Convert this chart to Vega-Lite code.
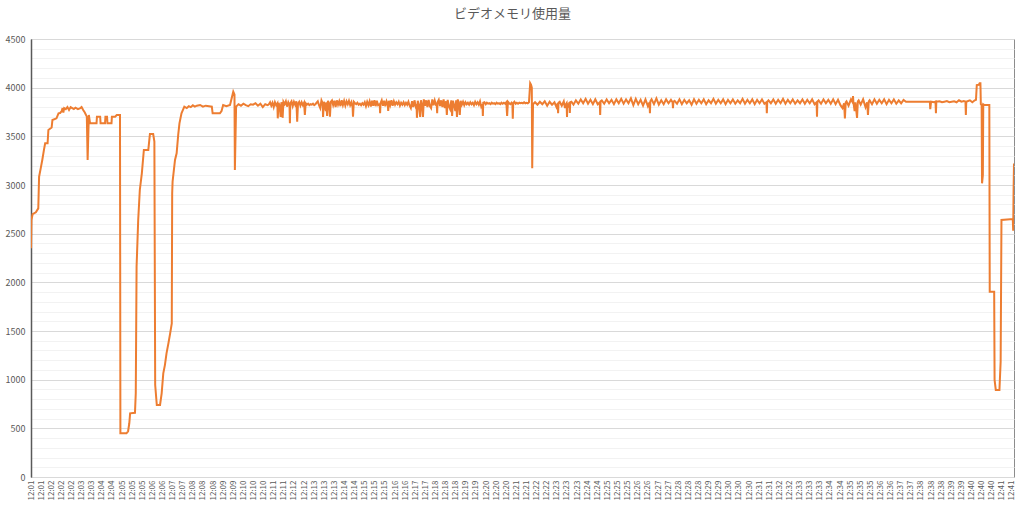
{
  "$schema": "https://vega.github.io/schema/vega-lite/v6.json",
  "width": 983,
  "height": 438,
  "autosize": {"type": "none"},
  "padding": {"left": 31, "top": 39, "right": 10, "bottom": 31},
  "background": "white",
  "title": {"text": "ビデオメモリ使用量", "fontSize": 13, "font": "Noto Sans CJK JP", "fontWeight": "normal", "color": "#595959", "offset": 14, "dx": -10},
  "config": {"view": {"stroke": "#8c8c8c", "strokeWidth": 1}},
  "data": {"values": [
    {"i":0,"v":2350},{"i":1,"v":2640},{"i":4,"v":2700},{"i":12,"v":2720},{"i":18,"v":2760},{"i":20,"v":3085},{"i":24,"v":3171},{"i":28,"v":3260},{"i":32,"v":3360},{"i":35,"v":3428},{"i":41,"v":3428},{"i":43,"v":3565},{"i":51,"v":3590},{"i":53,"v":3668},{"i":63,"v":3685},{"i":68,"v":3737},{"i":72,"v":3740},{"i":76,"v":3760},{"i":78,"v":3790},{"i":80,"v":3745},{"i":82,"v":3790},{"i":86,"v":3780},{"i":90,"v":3800},{"i":94,"v":3770},{"i":98,"v":3800},{"i":102,"v":3790},{"i":106,"v":3780},{"i":110,"v":3795},{"i":116,"v":3780},{"i":122,"v":3790},{"i":125,"v":3800},{"i":129,"v":3770},{"i":133,"v":3745},{"i":138,"v":3702},{"i":140,"v":3257},{"i":143,"v":3720},{"i":146,"v":3634},{"i":162,"v":3634},{"i":163,"v":3702},{"i":171,"v":3702},{"i":172,"v":3634},{"i":183,"v":3634},{"i":184,"v":3702},{"i":188,"v":3702},{"i":189,"v":3634},{"i":199,"v":3634},{"i":200,"v":3702},{"i":208,"v":3702},{"i":212,"v":3719},{"i":220,"v":3719},{"i":221,"v":449},{"i":236,"v":449},{"i":240,"v":470},{"i":243,"v":552},{"i":245,"v":654},{"i":257,"v":660},{"i":259,"v":860},{"i":261,"v":2161},{"i":263,"v":2400},{"i":265,"v":2640},{"i":269,"v":2949},{"i":274,"v":3120},{"i":279,"v":3360},{"i":290,"v":3360},{"i":294,"v":3524},{"i":302,"v":3524},{"i":305,"v":3445},{"i":307,"v":945},{"i":311,"v":740},{"i":319,"v":740},{"i":323,"v":860},{"i":327,"v":1065},{"i":331,"v":1150},{"i":335,"v":1271},{"i":340,"v":1380},{"i":344,"v":1476},{"i":348,"v":1579},{"i":349,"v":2915},{"i":350,"v":3034},{"i":356,"v":3257},{"i":360,"v":3326},{"i":364,"v":3520},{"i":367,"v":3634},{"i":372,"v":3737},{"i":379,"v":3805},{"i":385,"v":3790},{"i":390,"v":3810},{"i":395,"v":3800},{"i":400,"v":3820},{"i":405,"v":3805},{"i":410,"v":3815},{"i":418,"v":3822},{"i":425,"v":3805},{"i":432,"v":3815},{"i":440,"v":3810},{"i":447,"v":3805},{"i":449,"v":3737},{"i":467,"v":3737},{"i":471,"v":3760},{"i":475,"v":3822},{"i":483,"v":3810},{"i":492,"v":3822},{"i":500,"v":3959},{"i":503,"v":3930},{"i":504,"v":3154},
    {"i":507,"v":3805},{"i":513,"v":3830},{"i":519,"v":3815},{"i":525,"v":3835},{"i":531,"v":3820},{"i":537,"v":3810},{"i":543,"v":3830},{"i":549,"v":3825},{"i":555,"v":3840},{"i":561,"v":3815},{"i":567,"v":3835},{"i":573,"v":3800},{"i":579,"v":3830},{"i":585,"v":3820},
    {"i":588,"v":3830},{"i":591,"v":3850},{"i":594,"v":3815},{"i":597,"v":3845},{"i":600,"v":3800},{"i":603,"v":3850},{"i":606,"v":3820},{"i":609,"v":3840},{"i":610,"v":3685},{"i":612,"v":3845},{"i":615,"v":3810},{"i":617,"v":3700},{"i":619,"v":3850},{"i":621,"v":3820},{"i":622,"v":3690},{"i":624,"v":3855},{"i":627,"v":3830},{"i":630,"v":3860},{"i":633,"v":3805},{"i":636,"v":3850},{"i":639,"v":3820},{"i":640,"v":3634},{"i":641,"v":3840},{"i":644,"v":3860},{"i":647,"v":3810},{"i":650,"v":3855},{"i":653,"v":3825},{"i":656,"v":3860},{"i":658,"v":3650},{"i":660,"v":3835},{"i":663,"v":3855},{"i":666,"v":3815},{"i":669,"v":3850},{"i":672,"v":3820},{"i":675,"v":3845},{"i":677,"v":3720},{"i":679,"v":3840},{"i":682,"v":3825},{"i":685,"v":3835},{"i":688,"v":3820},{"i":691,"v":3830},{"i":694,"v":3825},{"i":697,"v":3835},{"i":700,"v":3820},{"i":703,"v":3830},{"i":706,"v":3845},{"i":709,"v":3860},{"i":712,"v":3820},{"i":715,"v":3790},{"i":718,"v":3870},{"i":721,"v":3840},{"i":722,"v":3700},{"i":724,"v":3855},{"i":727,"v":3800},{"i":729,"v":3760},{"i":730,"v":3850},{"i":732,"v":3710},{"i":734,"v":3865},{"i":737,"v":3830},{"i":739,"v":3702},{"i":741,"v":3855},{"i":744,"v":3870},{"i":747,"v":3820},{"i":750,"v":3865},{"i":753,"v":3800},{"i":756,"v":3870},{"i":759,"v":3825},{"i":762,"v":3860},{"i":765,"v":3810},{"i":768,"v":3870},{"i":771,"v":3820},{"i":774,"v":3865},{"i":777,"v":3815},{"i":780,"v":3860},{"i":783,"v":3830},{"i":786,"v":3865},{"i":789,"v":3820},{"i":792,"v":3850},{"i":795,"v":3800},{"i":796,"v":3702},{"i":798,"v":3855},{"i":801,"v":3840},{"i":804,"v":3830},{"i":807,"v":3845},{"i":810,"v":3825},{"i":813,"v":3835},{"i":816,"v":3820},{"i":819,"v":3840},{"i":822,"v":3825},{"i":825,"v":3850},{"i":828,"v":3810},{"i":831,"v":3855},{"i":834,"v":3820},{"i":837,"v":3860},{"i":840,"v":3805},{"i":843,"v":3865},{"i":846,"v":3815},{"i":849,"v":3870},{"i":852,"v":3810},{"i":855,"v":3865},{"i":858,"v":3820},{"i":862,"v":3830},{"i":863,"v":3737},{"i":864,"v":3840},{"i":867,"v":3870},{"i":870,"v":3815},{"i":873,"v":3865},{"i":876,"v":3810},{"i":879,"v":3860},{"i":882,"v":3830},{"i":883,"v":3760},{"i":885,"v":3865},{"i":888,"v":3820},{"i":891,"v":3870},{"i":894,"v":3815},{"i":897,"v":3860},{"i":900,"v":3825},{"i":903,"v":3850},{"i":906,"v":3830},{"i":909,"v":3855},{"i":912,"v":3815},{"i":915,"v":3845},{"i":918,"v":3825},{"i":921,"v":3850},{"i":924,"v":3820},{"i":927,"v":3845},{"i":930,"v":3825},{"i":933,"v":3855},{"i":936,"v":3815},{"i":939,"v":3790},{"i":942,"v":3860},{"i":945,"v":3800},{"i":948,"v":3870},{"i":951,"v":3810},{"i":953,"v":3830},{"i":954,"v":3690},{"i":956,"v":3865},{"i":959,"v":3820},{"i":962,"v":3700},{"i":964,"v":3870},{"i":967,"v":3810},{"i":969,"v":3700},{"i":971,"v":3880},{"i":974,"v":3815},{"i":977,"v":3870},{"i":980,"v":3800},{"i":983,"v":3875},{"i":986,"v":3810},{"i":989,"v":3790},{"i":992,"v":3880},{"i":995,"v":3820},{"i":998,"v":3870},{"i":1001,"v":3825},{"i":1003,"v":3830},{"i":1004,"v":3737},{"i":1005,"v":3850},{"i":1008,"v":3875},{"i":1011,"v":3810},{"i":1014,"v":3870},{"i":1017,"v":3800},{"i":1020,"v":3880},{"i":1023,"v":3790},{"i":1026,"v":3860},{"i":1028,"v":3720},{"i":1030,"v":3875},{"i":1033,"v":3810},{"i":1036,"v":3780},{"i":1039,"v":3870},{"i":1041,"v":3710},{"i":1043,"v":3865},{"i":1046,"v":3820},{"i":1049,"v":3760},{"i":1051,"v":3870},{"i":1053,"v":3700},{"i":1055,"v":3880},{"i":1058,"v":3820},{"i":1060,"v":3720},{"i":1062,"v":3865},{"i":1065,"v":3825},{"i":1068,"v":3855},{"i":1071,"v":3820},{"i":1074,"v":3850},{"i":1077,"v":3830},{"i":1080,"v":3845},{"i":1083,"v":3825},{"i":1086,"v":3850},{"i":1089,"v":3830},{"i":1092,"v":3845},{"i":1095,"v":3820},{"i":1098,"v":3855},{"i":1101,"v":3830},{"i":1104,"v":3850},{"i":1107,"v":3825},{"i":1110,"v":3860},{"i":1113,"v":3805},{"i":1116,"v":3830},{"i":1117,"v":3710},{"i":1118,"v":3845},{"i":1121,"v":3850},{"i":1124,"v":3830},{"i":1127,"v":3845},{"i":1130,"v":3835},{"i":1133,"v":3840},{"i":1136,"v":3830},{"i":1139,"v":3845},{"i":1142,"v":3835},{"i":1145,"v":3840},{"i":1148,"v":3830},{"i":1151,"v":3845},{"i":1154,"v":3835},{"i":1157,"v":3840},{"i":1160,"v":3830},{"i":1163,"v":3845},{"i":1166,"v":3835},{"i":1169,"v":3845},{"i":1172,"v":3835},{"i":1175,"v":3850},{"i":1177,"v":3710},{"i":1179,"v":3855},{"i":1182,"v":3840},{"i":1185,"v":3830},{"i":1188,"v":3845},{"i":1190,"v":3830},{"i":1191,"v":3680},{"i":1192,"v":3840},{"i":1195,"v":3855},{"i":1198,"v":3835},{"i":1201,"v":3845},{"i":1204,"v":3835},{"i":1207,"v":3845},{"i":1210,"v":3840},{"i":1213,"v":3845},{"i":1216,"v":3840},{"i":1219,"v":3850},{"i":1222,"v":3840},{"i":1225,"v":3845},{"i":1228,"v":3840},{"i":1231,"v":3850},{"i":1234,"v":4045},{"i":1236,"v":4030},{"i":1238,"v":4000},{"i":1239,"v":3171},
    {"i":1241,"v":3830},{"i":1246,"v":3850},{"i":1252,"v":3825},{"i":1258,"v":3855},{"i":1264,"v":3830},{"i":1270,"v":3860},{"i":1276,"v":3815},{"i":1282,"v":3855},{"i":1288,"v":3825},{"i":1294,"v":3850},{"i":1299,"v":3800},{"i":1302,"v":3840},{"i":1303,"v":3737},{"i":1304,"v":3845},{"i":1307,"v":3855},{"i":1312,"v":3815},{"i":1317,"v":3860},{"i":1320,"v":3790},{"i":1321,"v":3820},{"i":1324,"v":3840},{"i":1325,"v":3700},{"i":1326,"v":3830},{"i":1329,"v":3810},{"i":1331,"v":3850},{"i":1332,"v":3740},{"i":1333,"v":3850},{"i":1336,"v":3855},{"i":1341,"v":3825},{"i":1347,"v":3870},{"i":1353,"v":3835},{"i":1359,"v":3880},{"i":1365,"v":3840},{"i":1371,"v":3885},{"i":1377,"v":3835},{"i":1383,"v":3875},{"i":1389,"v":3830},{"i":1395,"v":3880},{"i":1401,"v":3830},{"i":1406,"v":3850},{"i":1407,"v":3720},{"i":1408,"v":3860},{"i":1411,"v":3870},{"i":1417,"v":3835},{"i":1423,"v":3880},{"i":1429,"v":3840},{"i":1435,"v":3875},{"i":1441,"v":3830},{"i":1447,"v":3880},{"i":1453,"v":3840},{"i":1459,"v":3885},{"i":1465,"v":3835},{"i":1471,"v":3880},{"i":1477,"v":3840},{"i":1483,"v":3890},{"i":1489,"v":3820},{"i":1495,"v":3885},{"i":1501,"v":3830},{"i":1507,"v":3875},{"i":1513,"v":3815},{"i":1519,"v":3880},{"i":1525,"v":3810},{"i":1529,"v":3850},{"i":1530,"v":3737},{"i":1531,"v":3860},{"i":1534,"v":3880},{"i":1540,"v":3830},{"i":1546,"v":3890},{"i":1552,"v":3825},{"i":1558,"v":3870},{"i":1564,"v":3830},{"i":1570,"v":3880},{"i":1576,"v":3840},{"i":1582,"v":3875},{"i":1586,"v":3850},{"i":1587,"v":3790},{"i":1588,"v":3855},{"i":1591,"v":3865},{"i":1597,"v":3835},{"i":1603,"v":3880},{"i":1609,"v":3830},{"i":1615,"v":3875},{"i":1621,"v":3840},{"i":1627,"v":3870},{"i":1633,"v":3825},{"i":1639,"v":3880},{"i":1645,"v":3835},{"i":1651,"v":3875},{"i":1657,"v":3840},{"i":1663,"v":3880},{"i":1669,"v":3830},{"i":1675,"v":3870},{"i":1681,"v":3840},{"i":1687,"v":3885},{"i":1693,"v":3835},{"i":1699,"v":3875},{"i":1705,"v":3840},{"i":1711,"v":3880},{"i":1717,"v":3830},{"i":1723,"v":3875},{"i":1729,"v":3840},{"i":1735,"v":3880},{"i":1741,"v":3835},{"i":1747,"v":3870},{"i":1753,"v":3840},{"i":1759,"v":3885},{"i":1765,"v":3835},{"i":1771,"v":3875},{"i":1777,"v":3840},{"i":1783,"v":3880},{"i":1789,"v":3830},{"i":1795,"v":3875},{"i":1801,"v":3840},{"i":1807,"v":3880},{"i":1813,"v":3835},{"i":1818,"v":3850},{"i":1819,"v":3737},{"i":1820,"v":3855},{"i":1823,"v":3870},{"i":1829,"v":3840},{"i":1835,"v":3880},{"i":1841,"v":3835},{"i":1847,"v":3875},{"i":1853,"v":3840},{"i":1859,"v":3885},{"i":1865,"v":3835},{"i":1871,"v":3875},{"i":1877,"v":3840},{"i":1883,"v":3880},{"i":1889,"v":3835},{"i":1895,"v":3870},{"i":1901,"v":3840},{"i":1907,"v":3880},{"i":1913,"v":3835},{"i":1919,"v":3875},{"i":1925,"v":3840},{"i":1931,"v":3880},{"i":1937,"v":3830},{"i":1942,"v":3850},{"i":1943,"v":3702},{"i":1944,"v":3855},{"i":1947,"v":3870},{"i":1953,"v":3835},{"i":1959,"v":3880},{"i":1965,"v":3840},{"i":1971,"v":3875},{"i":1977,"v":3835},{"i":1983,"v":3880},{"i":1989,"v":3830},{"i":1995,"v":3875},{"i":2001,"v":3820},{"i":2006,"v":3790},{"i":2010,"v":3840},{"i":2012,"v":3685},{"i":2014,"v":3850},{"i":2016,"v":3860},{"i":2021,"v":3815},{"i":2027,"v":3880},{"i":2031,"v":3850},{"i":2032,"v":3914},{"i":2033,"v":3850},{"i":2036,"v":3760},{"i":2038,"v":3850},{"i":2042,"v":3690},{"i":2044,"v":3860},{"i":2046,"v":3870},{"i":2051,"v":3825},{"i":2057,"v":3880},{"i":2063,"v":3800},{"i":2067,"v":3850},{"i":2069,"v":3720},{"i":2071,"v":3860},{"i":2073,"v":3870},{"i":2079,"v":3830},{"i":2085,"v":3880},{"i":2091,"v":3835},{"i":2097,"v":3875},{"i":2103,"v":3840},{"i":2109,"v":3880},{"i":2115,"v":3830},{"i":2121,"v":3875},{"i":2127,"v":3840},{"i":2133,"v":3880},{"i":2139,"v":3835},{"i":2145,"v":3870},{"i":2151,"v":3840},{"i":2157,"v":3875},{"i":2163,"v":3856},{"i":2222,"v":3856},{"i":2223,"v":3780},{"i":2225,"v":3856},{"i":2233,"v":3850},{"i":2236,"v":3856},{"i":2237,"v":3737},{"i":2238,"v":3856},{"i":2246,"v":3860},{"i":2252,"v":3850},{"i":2258,"v":3856},{"i":2264,"v":3862},{"i":2270,"v":3850},{"i":2276,"v":3856},{"i":2282,"v":3860},{"i":2288,"v":3850},{"i":2294,"v":3870},{"i":2300,"v":3856},{"i":2306,"v":3862},{"i":2310,"v":3856},{"i":2311,"v":3719},{"i":2312,"v":3856},{"i":2315,"v":3860},{"i":2321,"v":3870},{"i":2327,"v":3850},{"i":2333,"v":3870},{"i":2336,"v":3875},{"i":2338,"v":4027},{"i":2343,"v":4030},{"i":2345,"v":4045},{"i":2347,"v":4045},{"i":2348,"v":3830},{"i":2350,"v":3820},{"i":2351,"v":3017},{"i":2353,"v":3100},{"i":2354,"v":3830},{"i":2357,"v":3822},{"i":2369,"v":3822},{"i":2370,"v":1904},{"i":2381,"v":1904},{"i":2382,"v":997},{"i":2385,"v":894},{"i":2394,"v":894},{"i":2397,"v":1185},{"i":2399,"v":2640},{"i":2427,"v":2650},{"i":2428,"v":2530},{"i":2429,"v":2949},{"i":2430,"v":3220}
  ]},
  "mark": {"type": "line", "color": "#ED7D31", "strokeWidth": 2, "clip": true},
  "encoding": {
    "x": {
      "field": "i", "type": "quantitative",
      "scale": {"domain": [0, 2430], "nice": false, "zero": false},
      "axis": {
        "title": null, "grid": false, "ticks": false, "domain": false,
        "values": [0,25,50,75,100,125,150,175,200,225,250,275,300,325,350,375,400,425,450,475,500,525,550,575,600,625,650,675,700,725,750,775,800,825,850,875,900,925,950,975,1000,1025,1050,1075,1100,1125,1150,1175,1200,1225,1250,1275,1300,1325,1350,1375,1400,1425,1450,1475,1500,1525,1550,1575,1600,1625,1650,1675,1700,1725,1750,1775,1800,1825,1850,1875,1900,1925,1950,1975,2000,2025,2050,2075,2100,2125,2150,2175,2200,2225,2250,2275,2300,2325,2350,2375,2400,2425],
        "labelExpr": "['12:01','12:01','12:02','12:02','12:02','12:03','12:03','12:04','12:04','12:05','12:05','12:05','12:06','12:06','12:07','12:07','12:08','12:08','12:08','12:09','12:09','12:10','12:10','12:10','12:11','12:11','12:12','12:12','12:13','12:13','12:13','12:14','12:14','12:15','12:15','12:15','12:16','12:16','12:17','12:17','12:18','12:18','12:18','12:19','12:19','12:20','12:20','12:20','12:21','12:21','12:22','12:22','12:23','12:23','12:23','12:24','12:24','12:25','12:25','12:25','12:26','12:26','12:27','12:27','12:28','12:28','12:28','12:29','12:29','12:30','12:30','12:30','12:31','12:31','12:32','12:32','12:33','12:33','12:33','12:34','12:34','12:35','12:35','12:35','12:36','12:36','12:37','12:37','12:38','12:38','12:38','12:39','12:39','12:40','12:40','12:40','12:41','12:41'][round(datum.value/25)]",
        "labelAngle": -90, "labelOverlap": false, "labelFlush": false,
        "labelFontSize": 8, "labelColor": "#595959", "labelFont": "Noto Sans CJK JP", "labelPadding": 3
      }
    },
    "y": {
      "field": "v", "type": "quantitative",
      "scale": {"domain": [0, 4500], "nice": false},
      "axis": {
        "title": null, "ticks": false, "format": "d",
        "values": [0,100,200,300,400,500,600,700,800,900,1000,1100,1200,1300,1400,1500,1600,1700,1800,1900,2000,2100,2200,2300,2400,2500,2600,2700,2800,2900,3000,3100,3200,3300,3400,3500,3600,3700,3800,3900,4000,4100,4200,4300,4400,4500],
        "labelExpr": "datum.value % 500 === 0 ? datum.label : ''",
        "gridColor": {"condition": {"test": "datum.value % 500 === 0", "value": "#d9d9d9"}, "value": "#f2f2f2"},
        "domain": true, "domainColor": "#595959", "domainWidth": 1.5,
        "labelFontSize": 9, "labelColor": "#595959", "labelFont": "Noto Sans CJK JP", "labelPadding": 6, "labelOverlap": false
      }
    }
  }
}
